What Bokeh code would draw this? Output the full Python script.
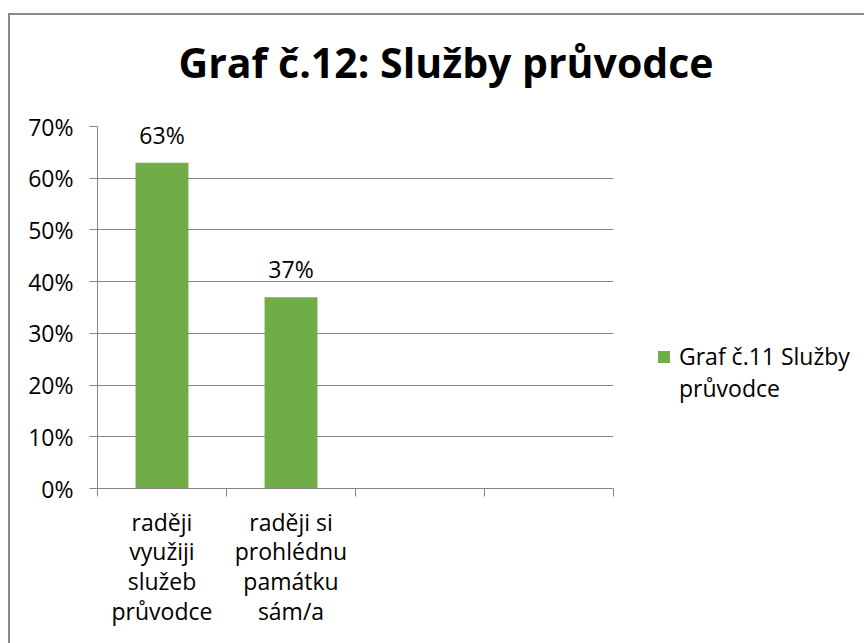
from bokeh.plotting import figure
from bokeh.models import Range1d, FixedTicker, NumeralTickFormatter, Legend, LegendItem, ColumnDataSource, Title
from bokeh.embed import file_html
from bokeh.resources import INLINE
from bokeh.core.properties import value

# ---- data ----
title_text = "Graf č.12: Služby průvodce"
categories = [
    "raději\nvyužiji\nslužeb\nprůvodce",
    "raději si\nprohlédnu\npamátku\nsám/a",
    "",
    "",
]
values = [0.63, 0.37, None, None]
value_labels = ["63%", "37%", "", ""]
y_ticks = [0.0, 0.1, 0.2, 0.3, 0.4, 0.5, 0.6, 0.7]
series_lines = ["Graf č.11 Služby", "průvodce"]   # legend label, wrapped as in the original

FONT = "Open Sans"
GREEN = "#70AD47"
GRID = "#868686"

n = len(categories)
centers = [i + 0.5 for i in range(n)]
bar_x = [centers[i] for i, v in enumerate(values) if v is not None]
bar_top = [v for v in values if v is not None]
bar_lbl = [value_labels[i] for i, v in enumerate(values) if v is not None]
src = ColumnDataSource(dict(x=bar_x, top=bar_top, lbl=bar_lbl))

p = figure(frame_width=516, frame_height=362, output_backend="svg", toolbar_location=None,
           x_range=Range1d(0, n), y_range=Range1d(y_ticks[0], y_ticks[-1]),
           min_border_left=87, min_border_right=251, min_border_top=111, min_border_bottom=155)
p.styles = {"margin-left": "8px", "margin-top": "13px",
            "border-left": "2px solid #898989", "border-top": "2px solid #898989"}

p.outline_line_color = None
p.background_fill_color = "white"
p.border_fill_color = "white"

bars = p.vbar(x="x", top="top", width=0.41, bottom=0, source=src,
              fill_color=GREEN, line_color=None)
# transparent stand-in so the legend label can wrap onto a second line
wrap = p.vbar(x=[], top=[], width=0.41, fill_alpha=0, line_alpha=0)

p.text(x="x", y="top", text="lbl", source=src, text_align="center", text_baseline="bottom",
       y_offset=-12, text_font=value(FONT), text_font_size="23px", text_color="black")

# title
p.title.text = title_text
p.title.text_font = FONT
p.title.text_font_size = "41px"
p.title.text_font_style = "bold"
p.title.text_color = "black"
p.title.align = "left"
p.title.vertical_align = "bottom"
p.title.offset = 81
p.title.standoff = 0
# empty spacer between the title and the plot area
p.add_layout(Title(text=" ", text_font_size="1px", standoff=34), "above")

# y axis
p.yaxis.ticker = FixedTicker(ticks=y_ticks)
p.yaxis.formatter = NumeralTickFormatter(format="0%")
p.yaxis.axis_line_color = GRID
p.yaxis.major_tick_line_color = GRID
p.yaxis.major_tick_out = 8
p.yaxis.major_tick_in = 0
p.yaxis.minor_tick_line_color = None
p.yaxis.major_label_text_font = FONT
p.yaxis.major_label_text_font_size = "23px"
p.yaxis.major_label_text_color = "black"
p.yaxis.major_label_standoff = 16

# x axis: labels at centers, tick marks at category boundaries
p.xaxis.ticker = FixedTicker(ticks=centers, minor_ticks=list(range(n + 1)))
p.xaxis.major_label_overrides = {c: lab for c, lab in zip(centers, categories)}
p.xaxis.axis_line_color = GRID
p.xaxis.major_tick_line_color = None
p.xaxis.major_tick_out = 0
p.xaxis.major_tick_in = 0
p.xaxis.minor_tick_line_color = GRID
p.xaxis.minor_tick_out = 8
p.xaxis.minor_tick_in = 0
p.xaxis.major_label_text_font = FONT
p.xaxis.major_label_text_font_size = "23px"
p.xaxis.major_label_text_color = "black"
p.xaxis.major_label_text_line_height = 0.93
p.xaxis.major_label_standoff = 9

p.xgrid.grid_line_color = None
p.ygrid.grid_line_color = GRID
p.ygrid.ticker = FixedTicker(ticks=y_ticks)

legend = Legend(items=[LegendItem(label=series_lines[0], renderers=[bars]),
                       LegendItem(label=series_lines[1], renderers=[wrap])],
                location=(43, 84), margin=0, padding=0, spacing=0, border_line_color=None,
                background_fill_alpha=0, glyph_width=15, glyph_height=15,
                label_text_font=FONT, label_text_font_size="23px", label_text_color="black",
                label_standoff=8)
p.add_layout(legend, "right")

open("out.html", "w").write(file_html(p, INLINE))
